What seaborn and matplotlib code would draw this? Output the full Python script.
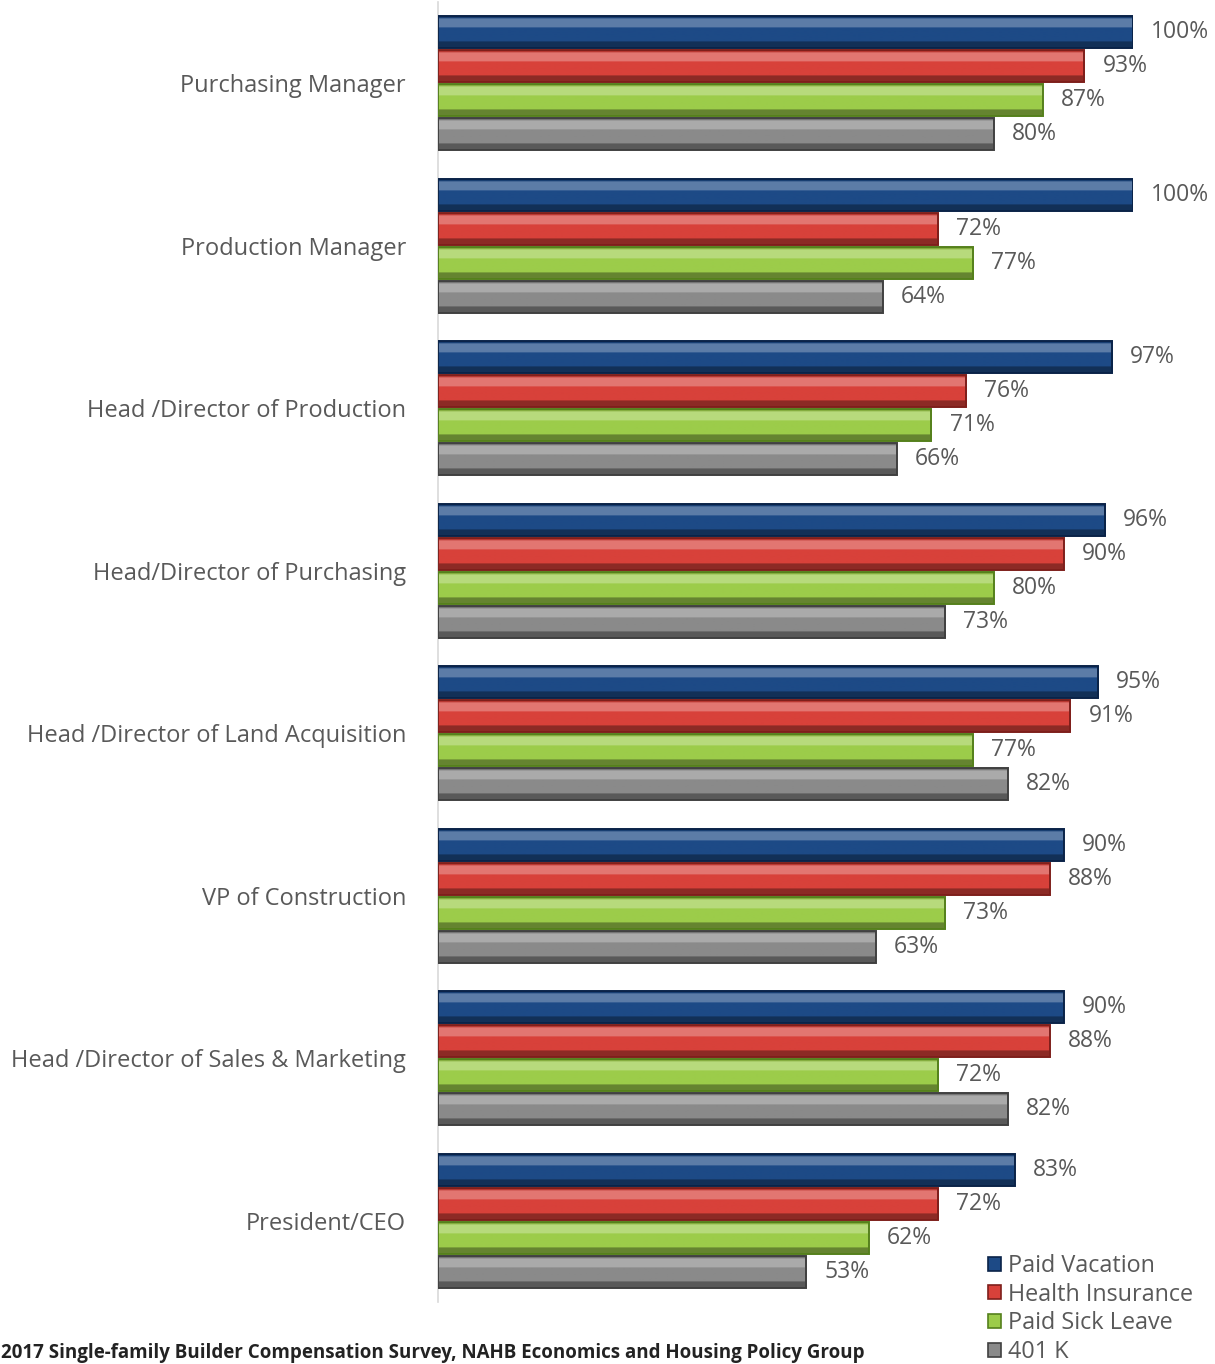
import matplotlib
matplotlib.use("Agg")
import matplotlib.pyplot as plt
import matplotlib.colors as mcolors
import seaborn as sns
import pandas as pd
import numpy as np
from matplotlib.patches import Patch

categories = [
    "Purchasing Manager",
    "Production Manager",
    "Head /Director of Production",
    "Head/Director of Purchasing",
    "Head /Director of Land Acquisition",
    "VP of Construction",
    "Head /Director of Sales & Marketing",
    "President/CEO",
]
series_names = ["Paid Vacation", "Health Insurance", "Paid Sick Leave", "401 K"]
paid_vacation = [100, 100, 97, 96, 95, 90, 90, 83]
health_insurance = [93, 72, 76, 90, 91, 88, 88, 72]
paid_sick_leave = [87, 77, 71, 80, 77, 73, 72, 62]
k401 = [80, 64, 66, 73, 82, 63, 82, 53]

colors = ["#1d4a86", "#d8413a", "#9ccc4a", "#8a8a8a"]
edges = ["#0a2348", "#7e1f1b", "#55801c", "#404040"]

rows = []
for name, vals in zip(series_names, [paid_vacation, health_insurance, paid_sick_leave, k401]):
    for c, v in zip(categories, vals):
        rows.append({"Role": c, "Benefit": name, "Value": v})
df = pd.DataFrame(rows)

sns.set_theme(style="white")
plt.rcParams["font.family"] = ["Open Sans", "DejaVu Sans"]

fig = plt.figure(figsize=(12.15, 13.64), dpi=100)
ax = fig.add_axes([438 / 1215, 1 - 1302 / 1364, 695 / 1215, 1300 / 1364])

sns.barplot(data=df, y="Role", x="Value", hue="Benefit", order=categories,
            hue_order=series_names, palette=colors, orient="h",
            width=0.84, gap=0.06, ax=ax, legend=False, saturation=1)


def gradient_for(base):
    rgb = np.array(mcolors.to_rgb(base))
    white = np.ones(3)
    n = 40
    t = np.linspace(0, 1, n)
    out = np.zeros((n, 1, 4))
    for i, tt in enumerate(t):
        if tt < 0.08:
            c = rgb * 0.85
        elif tt < 0.38:
            c = rgb * 0.72 + white * 0.28
        elif tt < 0.8:
            c = rgb
        else:
            c = rgb * 0.65
        out[i, 0, :3] = np.clip(c, 0, 1)
        out[i, 0, 3] = 1
    return out


for cont, col, ec in zip(ax.containers, colors, edges):
    grad = gradient_for(col)
    for p in cont:
        x0, y0, w, h = p.get_x(), p.get_y(), p.get_width(), p.get_height()
        im = ax.imshow(grad, extent=(x0, x0 + w, y0 + h, y0), origin="upper",
                       aspect="auto", zorder=2, interpolation="bilinear")
        im.set_clip_path(p)
        p.set_facecolor("none")
        p.set_edgecolor(ec)
        p.set_linewidth(1.4)
        p.set_zorder(3)
    ax.bar_label(cont, labels=[f"{int(round(p.get_width()))}%" for p in cont],
                 padding=13, fontsize=16.5, color="#595959")

ax.set_xlim(0, 100)
ax.set_ylim(7.5, -0.5)
ax.set_xlabel("")
ax.set_ylabel("")
ax.set_xticks([])
ax.tick_params(axis="y", length=0, pad=23, labelsize=17, labelcolor="#595959")
for s in ["top", "right", "bottom"]:
    ax.spines[s].set_visible(False)
ax.spines["left"].set_color("#d9d9d9")
ax.spines["left"].set_linewidth(1.2)

handles = [Patch(facecolor=c, edgecolor=e, linewidth=1.2) for c, e in zip(colors, edges)]
fig.legend(handles, series_names, loc="upper left",
           bbox_to_anchor=(988 / 1215, 1 - 1254 / 1364), frameon=False,
           fontsize=16.8, labelcolor="#595959", handlelength=0.55, handleheight=0.55,
           handletextpad=0.3, labelspacing=0.2, borderaxespad=0, borderpad=0)

fig.text(0.001, 1 - 1353 / 1364,
         "2017 Single-family Builder Compensation Survey, NAHB Economics and Housing Policy Group",
         fontsize=13.5, color="#222222", fontweight="bold", va="center", ha="left")

fig.savefig("out.png", dpi=100)
